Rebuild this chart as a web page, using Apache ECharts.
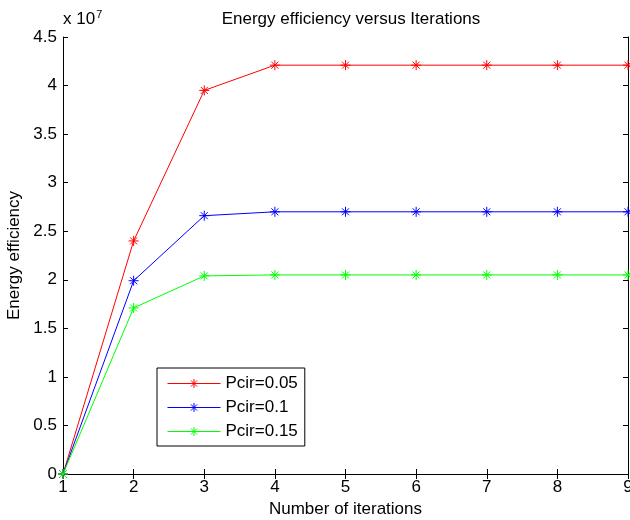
<!DOCTYPE html>
<html>
<head>
<meta charset="utf-8">
<script src="https://cdn.jsdelivr.net/npm/echarts@6/dist/echarts.min.js"></script>
<style>
  html, body { margin: 0; padding: 0; background: #fff; }
  #chart { width: 630px; height: 520px; }
</style>
</head>
<body>
<div id="chart"></div>
<script>
// values in units of 1e7
var iterations = [1, 2, 3, 4, 5, 6, 7, 8, 9];
var pcir005 = [0, 2.40, 3.95, 4.21, 4.21, 4.21, 4.21, 4.21, 4.21];
var pcir01 = [0, 1.99, 2.66, 2.70, 2.70, 2.70, 2.70, 2.70, 2.70];
var pcir015 = [0, 1.71, 2.04, 2.05, 2.05, 2.05, 2.05, 2.05, 2.05];
var seriesNames = ['Pcir=0.05', 'Pcir=0.1', 'Pcir=0.15'];
var colors = ['#ff0000', '#0000ff', '#00ff00'];

var star = 'path://M0,-1L0,1M-1,0L1,0M-0.7,-0.7L0.7,0.7M-0.7,0.7L0.7,-0.7';
var font = 'Liberation Sans, Arial, sans-serif';

function pairs(ys) {
    return iterations.map(function (x, i) { return [x, ys[i]]; });
}

function makeSeries(name, ys, color) {
    return {
        name: name,
        type: 'line',
        data: pairs(ys),
        symbol: star,
        symbolSize: 10,
        showSymbol: true,
        clip: false,
        itemStyle: { color: 'none', borderColor: color, borderWidth: 1 },
        lineStyle: { color: color, width: 1 },
        emphasis: { disabled: true },
        animation: false
    };
}

var myChart = echarts.init(document.getElementById('chart'));
var axisLine = { lineStyle: { color: '#000', width: 1 } };
var tick = { show: true, inside: true, length: 5, lineStyle: { color: '#000' } };
var option = {
    backgroundColor: '#fff',
    textStyle: { fontFamily: font },
    animation: false,
    title: {
        text: 'Energy efficiency versus Iterations',
        left: 346,
        top: 6,
        textAlign: 'center',
        textStyle: { fontSize: 17, fontWeight: 'normal', color: '#000', fontFamily: font }
    },
    graphic: [{
        type: 'text',
        left: 63,
        top: 9,
        style: {
            text: 'x 10{s|7}',
            rich: { s: { fontSize: 11, verticalAlign: 'top', padding: [0, 0, 9, 1] } },
            font: '17px ' + font,
            fill: '#000'
        }
    }],
    legend: {
        orient: 'vertical',
        left: 157,
        top: 368,
        padding: [7, 7, 6, 10],
        borderColor: '#000',
        borderWidth: 1,
        backgroundColor: '#fff',
        itemWidth: 53,
        itemHeight: 11,
        itemGap: 7,
        itemStyle: { borderWidth: 1 },
        lineStyle: { width: 1 },
        textStyle: { fontSize: 17, color: '#000', fontFamily: font },
        data: seriesNames
    },
    grid: { left: 63, right: 2, top: 37, bottom: 46, containLabel: false, outerBoundsMode: 'none' },
    xAxis: [{
        type: 'value',
        min: 1,
        max: 9,
        interval: 1,
        name: 'Number of iterations',
        nameLocation: 'middle',
        nameGap: 26,
        nameTextStyle: { fontSize: 17, color: '#000' },
        axisLine: axisLine,
        axisTick: tick,
        axisLabel: { fontSize: 17, color: '#000', margin: 5, showMaxLabel: true, hideOverlap: false },
        splitLine: { show: false }
    }, {
        type: 'value',
        position: 'top',
        min: 1,
        max: 9,
        interval: 1,
        axisLine: axisLine,
        axisTick: tick,
        axisLabel: { show: false },
        splitLine: { show: false }
    }],
    yAxis: [{
        type: 'value',
        min: 0,
        max: 4.5,
        interval: 0.5,
        name: 'Energy efficiency',
        nameLocation: 'middle',
        nameGap: 35,
        nameTextStyle: { fontSize: 17, color: '#000' },
        axisLine: { show: true, lineStyle: { color: '#000', width: 1 } },
        axisTick: tick,
        axisLabel: { fontSize: 17, color: '#000', margin: 6 },
        splitLine: { show: false }
    }, {
        type: 'value',
        position: 'right',
        min: 0,
        max: 4.5,
        interval: 0.5,
        axisLine: { show: true, lineStyle: { color: '#000', width: 1 } },
        axisTick: tick,
        axisLabel: { show: false },
        splitLine: { show: false }
    }],
    series: [
        makeSeries(seriesNames[0], pcir005, colors[0]),
        makeSeries(seriesNames[1], pcir01, colors[1]),
        makeSeries(seriesNames[2], pcir015, colors[2])
    ]
};
myChart.setOption(option);
</script>
</body>
</html>
